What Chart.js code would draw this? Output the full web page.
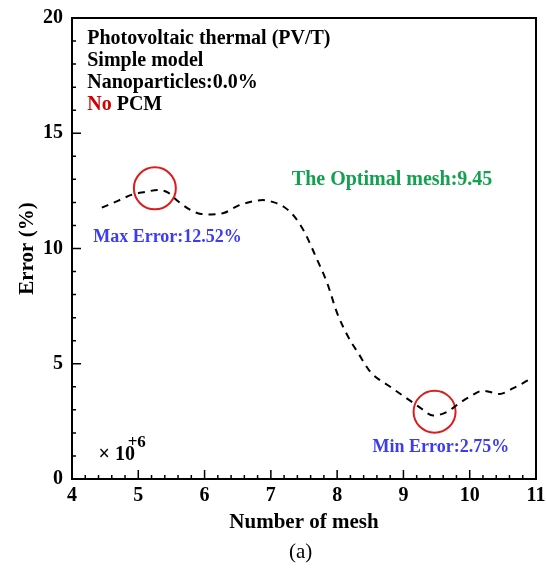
<!DOCTYPE html>
<html>
<head>
<meta charset="utf-8">
<script src="https://cdn.jsdelivr.net/npm/chart.js@4.4.0/dist/chart.umd.min.js"></script>
<style>
  html, body { margin: 0; padding: 0; background: #fff; }
  #wrap { width: 546px; height: 568px; }
</style>
</head>
<body>
<div id="wrap"><canvas id="c"></canvas></div>
<script>
(function () {
    'use strict';

    // values
    var meshX  = [4.45, 4.7, 4.92, 5.1, 5.3, 5.45, 5.6, 5.8, 5.95, 6.1, 6.3, 6.5, 6.7, 6.88, 7.05, 7.2, 7.35, 7.5, 7.7, 7.85, 8.0, 8.17, 8.32, 8.5, 8.8, 9.05, 9.25, 9.45, 9.65, 9.85, 10.0, 10.2, 10.45, 10.65, 10.88];
    var errorY = [11.77, 12.08, 12.35, 12.45, 12.54, 12.42, 12.05, 11.65, 11.5, 11.48, 11.55, 11.85, 12.03, 12.1, 12.0, 11.8, 11.4, 10.75, 9.5, 8.5, 7.2, 6.15, 5.45, 4.65, 4.0, 3.5, 3.1, 2.75, 2.9, 3.3, 3.57, 3.83, 3.69, 3.93, 4.28];
    var markX  = [5.25, 9.47];
    var markY  = [12.61, 2.92];
    var xTicks = [4, 5, 6, 7, 8, 9, 10, 11];
    var yTicks = [0, 5, 10, 15, 20];
    var infoLines = ['Photovoltaic thermal (PV/T)', 'Simple model', 'Nanoparticles:0.0%'];
    var infoY = [19.18, 18.22, 17.27, 16.31];

    var SERIF = '"Liberation Serif", "Times New Roman", serif';

    var curve = meshX.map(function (x, i) { return { x: x, y: errorY[i] }; });
    var marks = markX.map(function (x, i) { return { x: x, y: markY[i] }; });

    // 'middle' sits a touch high for caps, push labels down a bit
    function text(ctx, s, px, py, color, size, bold) {
        ctx.font = (bold ? 'bold ' : '') + size + 'px ' + SERIF;
        ctx.fillStyle = color;
        ctx.fillText(s, px, py + 2);
        return ctx.measureText(s).width;
    }

    var frame = {
        id: 'frame',
        afterDraw: function (chart) {
            var ctx = chart.ctx, a = chart.chartArea;
            var xs = chart.scales.x, ys = chart.scales.y;
            ctx.save();

            // inward ticks
            ctx.strokeStyle = '#000';
            ctx.lineWidth = 1.5;
            ctx.beginPath();
            var i, p, len;
            for (i = 0; i <= 35; i++) {
                p = xs.getPixelForValue(4 + i * 0.2);
                len = (i % 5 === 0) ? 9 : 4;
                ctx.moveTo(p, a.bottom); ctx.lineTo(p, a.bottom - len);
            }
            for (i = 0; i <= 20; i++) {
                p = ys.getPixelForValue(i);
                len = (i % 5 === 0) ? 9 : 4;
                ctx.moveTo(a.left, p); ctx.lineTo(a.left + len, p);
            }
            ctx.stroke();

            ctx.lineWidth = 2;
            ctx.strokeRect(a.left, a.top, a.right - a.left, a.bottom - a.top);

            // annotations
            ctx.textBaseline = 'middle';
            ctx.textAlign = 'left';
            var lx = xs.getPixelForValue(4.23);
            infoLines.forEach(function (s, k) {
                text(ctx, s, lx, ys.getPixelForValue(infoY[k]), '#000', 20, true);
            });
            var w = text(ctx, 'No ', lx, ys.getPixelForValue(infoY[3]), '#d00000', 20, true);
            text(ctx, 'PCM', lx + w, ys.getPixelForValue(infoY[3]), '#000', 20, true);

            text(ctx, 'The Optimal mesh:9.45', xs.getPixelForValue(7.316), ys.getPixelForValue(13.05), '#12a150', 20, true);
            text(ctx, 'Max Error:12.52%', xs.getPixelForValue(4.32), ys.getPixelForValue(10.55), '#3c3cf2', 18, true);
            text(ctx, 'Min Error:2.75%', xs.getPixelForValue(8.535), ys.getPixelForValue(1.47), '#3c3cf2', 18, true);

            text(ctx, '\u00d7 10', xs.getPixelForValue(4.4), ys.getPixelForValue(1.13), '#000', 20, true);
            text(ctx, '+6', xs.getPixelForValue(4.84), ys.getPixelForValue(1.65), '#000', 17, true);

            ctx.textAlign = 'center';
            text(ctx, '(a)', xs.getPixelForValue(7.45), 550, '#000', 21, false);
            ctx.restore();
        }
    };

    var tickFont = { family: SERIF, size: 20, weight: 'bold' };
    var titleFont = { family: SERIF, size: 21, weight: 'bold' };

    new Chart(document.getElementById('c'), {
        type: 'line',
        data: {
            datasets: [{
                data: curve,
                borderColor: '#000',
                borderWidth: 2,
                borderDash: [7, 6],
                pointRadius: 0,
                fill: false,
                cubicInterpolationMode: 'monotone'
            }, {
                type: 'scatter',
                data: marks,
                showLine: false,
                pointRadius: 21,
                pointHoverRadius: 21,
                pointBorderWidth: 2,
                borderColor: '#dd1c1c',
                pointBorderColor: '#dd1c1c',
                backgroundColor: 'rgba(0,0,0,0)',
                pointBackgroundColor: 'rgba(0,0,0,0)'
            }]
        },
        options: {
            responsive: true,
            maintainAspectRatio: false,
            animation: false,
            layout: { autoPadding: false, padding: { top: 18, right: 10, left: 0, bottom: 0 } },
            plugins: { legend: { display: false }, tooltip: { enabled: false } },
            scales: {
                x: {
                    type: 'linear',
                    min: 4, max: 11,
                    afterBuildTicks: function (s) { s.ticks = xTicks.map(function (v) { return { value: v }; }); },
                    afterFit: function (s) { s.height = 89; s.paddingLeft = 0; s.paddingRight = 0; },
                    grid: { display: false, drawTicks: false },
                    border: { display: false },
                    ticks: { color: '#000', font: tickFont, padding: 5, maxRotation: 0, autoSkip: false },
                    title: { display: true, text: 'Number of mesh', color: '#000', font: titleFont, padding: { bottom: 33 } }
                },
                y: {
                    min: 0, max: 20,
                    afterBuildTicks: function (s) { s.ticks = yTicks.map(function (v) { return { value: v }; }); },
                    afterFit: function (s) { s.width = 72; s.paddingTop = 0; s.paddingBottom = 0; },
                    grid: { display: false, drawTicks: false },
                    border: { display: false },
                    ticks: { color: '#000', font: tickFont, padding: 9, autoSkip: false },
                    title: { display: true, text: 'Error (%)', color: '#000', font: titleFont, padding: { top: 15 } }
                }
            }
        },
        plugins: [frame]
    });
})();
</script>
</body>
</html>
